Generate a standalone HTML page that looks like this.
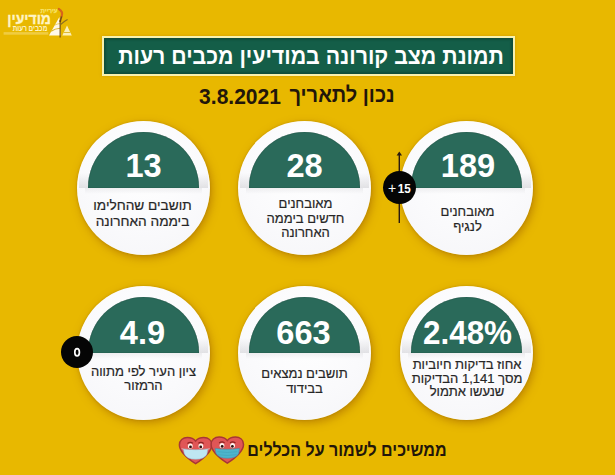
<!DOCTYPE html>
<html lang="he">
<head>
<meta charset="utf-8">
<style>
html,body{margin:0;padding:0;}
body{width:615px;height:475px;overflow:hidden;position:relative;background:#E8B800;font-family:"Liberation Sans",sans-serif;}
.abs{position:absolute;}
.t{position:absolute;white-space:nowrap;direction:rtl;}
.title{left:102px;top:36px;width:409px;height:36px;border:2px solid #F7F1AE;background:#145E48;box-shadow:0 0 3px rgba(170,110,0,0.35),inset 0 0 2px 2px rgba(0,35,22,0.28);}
.sub{color:#22160A;font-weight:bold;font-size:21px;line-height:24px;}
.circ{position:absolute;overflow:hidden;width:133px;height:134px;border-radius:50%;background:radial-gradient(circle at 50% 35%,#ffffff 0,#fafafc 55%,#f5f5f8 100%);box-shadow:0 0 2px rgba(120,80,0,0.35),2px 3px 9px rgba(150,85,0,0.5);}
.dome{position:absolute;left:11.3px;top:11px;width:111px;height:55.5px;border-radius:55.5px 55.5px 0 0;background:#2A6A5A;box-shadow:inset 0 0 1px rgba(0,30,20,0.7);}
.under{position:absolute;left:2px;top:51.5px;width:129px;height:15px;background:linear-gradient(rgba(0,0,0,0),rgba(60,60,70,0.13));}
.under2{position:absolute;left:8px;top:66.5px;width:117px;height:6px;background:linear-gradient(rgba(60,60,70,0.07),rgba(60,60,70,0));}
.num{position:absolute;left:0;width:133px;text-align:center;color:#fff;font-weight:bold;font-size:32.6px;line-height:40px;white-space:nowrap;}
.txt{position:absolute;left:0;width:133px;text-align:center;color:#262626;font-size:13px;white-space:nowrap;direction:rtl;-webkit-text-stroke:0.2px #262626;}
.badge{position:absolute;width:32px;height:32px;border-radius:50%;background:#050505;color:#fff;font-weight:bold;text-align:center;line-height:32px;}
.lg{position:absolute;white-space:nowrap;direction:rtl;color:#FFF4C4;font-weight:bold;transform-origin:100% 0;}
</style>
</head>
<body>

<!-- logo -->
<div class="lg" style="right:557px;top:7.4px;font-size:7px;line-height:8px;color:#F8E46A;transform:scaleX(0.87);-webkit-text-stroke:0.25px #F8E46A">עיריית</div>
<div class="lg" style="right:564px;top:9.9px;font-size:15px;line-height:18px;transform:scaleX(0.93);-webkit-text-stroke:0.35px #FFF4C4">מודיעין</div>
<div class="lg" style="right:567.6px;top:24.2px;font-size:8px;line-height:9px;transform:scaleX(0.8)">מכבים רעות</div>
<svg class="abs" style="left:0;top:0" width="80" height="45" viewBox="0 0 80 45">
  <rect x="3.6" y="32.1" width="44.7" height="2.6" fill="#FBE89A" opacity="0.42"/>
  <polygon points="59.4,17 49,35.5 60.6,35.5" fill="#FFF8E8"/>
  <polygon points="67,25.6 62.3,35.5 71.8,35.5" fill="#FBF0B8"/>
  <path d="M51.2,31.2 Q55,28.5 60.2,28.2" stroke="#D9B52A" stroke-width="1.1" fill="none"/>
  <path d="M54.5,25.2 Q57,23.8 60.2,23.5" stroke="#E6C440" stroke-width="0.8" fill="none"/>
  <path d="M63.6,32.5 L70.5,32.5" stroke="#DDBA35" stroke-width="1"/>
  <path d="M58.8,9 C61.5,10.5 62.8,13 61.6,16.5" stroke="#D8661A" stroke-width="2.2" fill="none" stroke-linecap="round"/>
  <path d="M61.6,16.5 C61,18.5 60.4,20 60.2,22" stroke="#7A4A18" stroke-width="1.6" fill="none"/>
  <line x1="60.1" y1="20" x2="60.1" y2="37.5" stroke="#5A3A12" stroke-width="1"/>
  <path d="M60.6,24.5 C63,22.5 65.5,20.5 67.6,19.5" stroke="#8E7020" stroke-width="1.2" fill="none"/>
</svg>

<!-- title -->
<div class="abs title"></div>
<div class="t" style="left:311px;top:42.3px;color:#fff;font-weight:bold;font-size:23.5px;line-height:28px;transform:translateX(-50%) scaleX(0.906)">תמונת מצב קורונה במודיעין מכבים רעות</div>

<!-- subtitle -->
<div class="t sub" style="left:239.8px;top:84.9px;font-size:22px;direction:ltr;transform:translateX(-50%) scaleX(0.955)">3.8.2021</div>
<div class="t sub" style="left:341.7px;top:83px;transform:translateX(-50%) scaleX(0.954)">נכון לתאריך</div>

<!-- row 1 -->
<div class="circ" style="left:77px;top:121px;">
  <div class="under"></div><div class="dome"></div><div class="under2"></div>
  <div class="num" style="top:24.7px;">13</div>
  <div class="txt" style="top:77.3px;line-height:15.2px;left:-1px;transform:scaleX(1.05)">תושבים שהחלימו<br>ביממה האחרונה</div>
</div>
<div class="circ" style="left:238px;top:121px;">
  <div class="under"></div><div class="dome"></div><div class="under2"></div>
  <div class="num" style="top:24.7px;">28</div>
  <div class="txt" style="top:76px;line-height:14.7px;left:1px">מאובחנים<br>חדשים ביממה<br>האחרונה</div>
</div>
<div class="circ" style="left:400px;top:121px;">
  <div class="under"></div><div class="dome"></div><div class="under2"></div>
  <div class="num" style="top:24.7px;left:1.5px">189</div>
  <div class="txt" style="top:84.2px;line-height:14.8px;left:1px">מאובחנים<br>לנגיף</div>
</div>

<!-- row 2 -->
<div class="circ" style="left:77px;top:286px;">
  <div class="under"></div><div class="dome"></div><div class="under2"></div>
  <div class="num" style="top:26.8px;left:-1px">4.9</div>
  <div class="txt" style="top:78.5px;line-height:14.3px;">ציון העיר לפי מתווה<br>הרמזור</div>
</div>
<div class="circ" style="left:238px;top:286px;">
  <div class="under"></div><div class="dome"></div><div class="under2"></div>
  <div class="num" style="top:26.8px;left:-1px">663</div>
  <div class="txt" style="top:80.8px;line-height:14.9px;">תושבים נמצאים<br>בבידוד</div>
</div>
<div class="circ" style="left:400px;top:286px;">
  <div class="under"></div><div class="dome"></div><div class="under2"></div>
  <div class="num" style="top:26.8px;left:0.5px;transform:scaleX(0.965)">2.48%</div>
  <div class="txt" style="top:72px;line-height:13.6px;left:0.5px">אחוז בדיקות חיוביות<br>מסך 1,141 הבדיקות<br>שנעשו אתמול</div>
</div>

<!-- +15 badge with arrow line -->
<svg class="abs" style="left:394px;top:149px" width="11" height="76" viewBox="0 0 11 76">
  <line x1="5.3" y1="4" x2="5.3" y2="74" stroke="#2A1A10" stroke-width="1.4"/>
  <polygon points="5.3,2.5 2.6,6.5 8,6.5" fill="#2A1A10"/>
</svg>
<div class="badge" style="left:383px;top:170.5px;width:33px;height:33px;line-height:34px;font-size:13px;"><span style="font-weight:normal;font-size:14px;margin-right:1px">+</span><span style="display:inline-block;transform:scaleX(0.9);margin-left:-0.5px">15</span></div>

<!-- ס badge -->
<div class="badge" style="left:61px;top:336px;"></div>
<svg class="abs" style="left:70px;top:344px" width="14" height="16" viewBox="0 0 14 16"><ellipse cx="7.1" cy="8.3" rx="2.3" ry="3.7" fill="none" stroke="#fff" stroke-width="1.7"/></svg>

<!-- bottom -->
<div class="t sub" style="left:346.6px;top:438.7px;font-size:18px;line-height:22px;transform:translateX(-50%) scaleX(0.891)">ממשיכים לשמור על הכללים</div>

<svg class="abs" style="left:176px;top:434px" width="72" height="34" viewBox="0 0 72 34">
  <g transform="translate(2.6,1.7)">
    <path d="M17,28 C8,22 0.8,16 0.8,9.2 C0.8,4.6 4.3,1.9 8.8,1.9 C12.3,1.9 15.5,3.4 17,5.4 C18.5,3.4 21.7,1.9 25.2,1.9 C29.7,1.9 33.2,4.6 33.2,9.2 C33.2,16 26,22 17,28 Z" fill="#E05656" stroke="#A83636" stroke-width="1.5"/>
    <path d="M8.8,7.8 Q11.5,5.8 14.3,7.5 M19.7,7.5 Q22.5,5.8 25.2,7.8" stroke="#8A2424" stroke-width="1.1" fill="none"/>
      <ellipse cx="11.7" cy="10.4" rx="2.4" ry="2.7" fill="#FFF4F0"/><ellipse cx="22.3" cy="10.4" rx="2.4" ry="2.7" fill="#FFF4F0"/>
      <circle cx="11.9" cy="11.2" r="1.4" fill="#2A1010"/><circle cx="22.1" cy="11.2" r="1.4" fill="#2A1010"/>
    <path d="M4.8,13.2 Q17,15 29.2,13.2 L28.3,18.5 Q26,23.5 17,23.5 Q8,23.5 5.7,18 Z" fill="#BFE6F2" stroke="#8FC4D6" stroke-width="0.5"/>
    <path d="M3,13 L5,13.5 M29,13.5 L31,13" stroke="#D9F0F6" stroke-width="0.6"/>
  </g>
  <g transform="translate(34.3,1.2)">
    <path d="M17,28 C8,22 0.8,16 0.8,9.2 C0.8,4.6 4.3,1.9 8.8,1.9 C12.3,1.9 15.5,3.4 17,5.4 C18.5,3.4 21.7,1.9 25.2,1.9 C29.7,1.9 33.2,4.6 33.2,9.2 C33.2,16 26,22 17,28 Z" fill="#E05656" stroke="#A83636" stroke-width="1.5"/>
    <path d="M8.8,7.8 Q11.5,5.8 14.3,7.5 M19.7,7.5 Q22.5,5.8 25.2,7.8" stroke="#8A2424" stroke-width="1.1" fill="none"/>
      <ellipse cx="11.7" cy="10.4" rx="2.4" ry="2.7" fill="#FFF4F0"/><ellipse cx="22.3" cy="10.4" rx="2.4" ry="2.7" fill="#FFF4F0"/>
      <circle cx="11.9" cy="11.2" r="1.4" fill="#2A1010"/><circle cx="22.1" cy="11.2" r="1.4" fill="#2A1010"/>
    <path d="M4.8,13.2 Q17,15 29.2,13.2 L28.3,18.5 Q26,23 17,23 Q8,23 5.7,18 Z" fill="#4DB5CC" stroke="#3A90A6" stroke-width="0.5"/>
    <path d="M7,16.5 Q17,18 27,16.5 M7.5,19.5 Q17,21 26.5,19.5" stroke="#3E9DB4" stroke-width="0.5" fill="none"/>
  </g>
</svg>

</body>
</html>
